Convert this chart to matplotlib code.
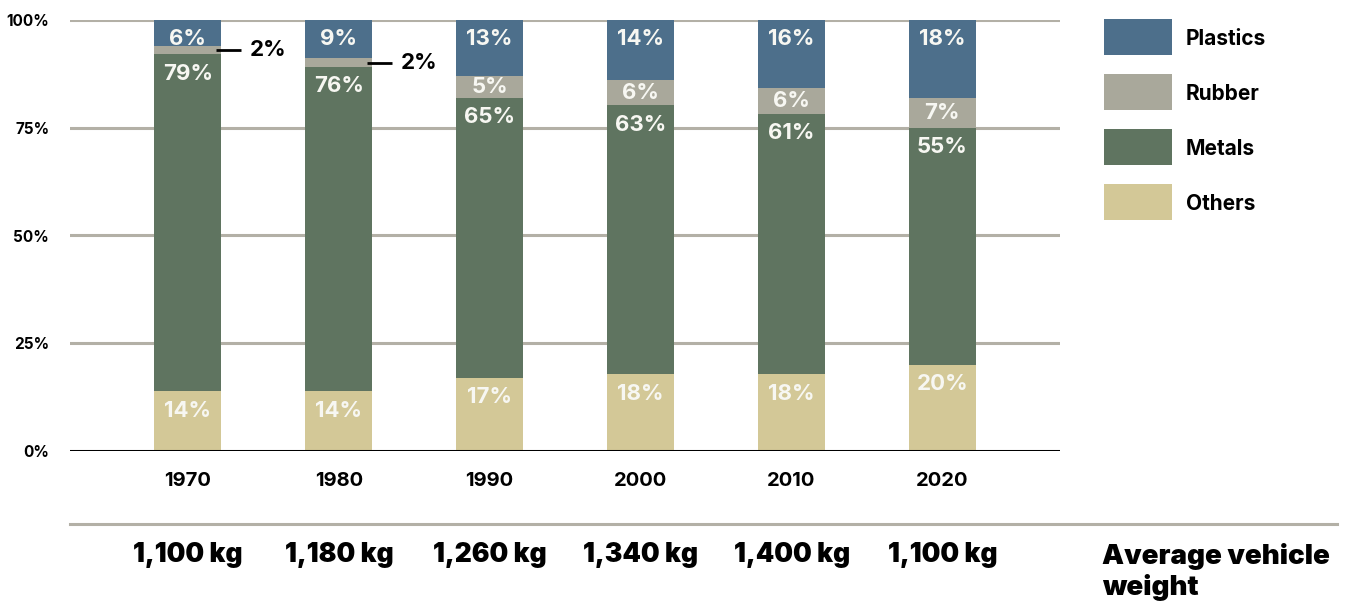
import matplotlib
matplotlib.use("Agg")
import matplotlib.pyplot as plt
from matplotlib.patches import Rectangle
import numpy as np

plt.rcParams["font.family"] = ["Inter", "DejaVu Sans"]

years = ["1970", "1980", "1990", "2000", "2010", "2020"]
weights = ["1,100 kg", "1,180 kg", "1,260 kg", "1,340 kg", "1,400 kg", "1,100 kg"]
others = [14, 14, 17, 18, 18, 20]
metals = [79, 76, 65, 63, 61, 55]
rubber = [2, 2, 5, 6, 6, 7]
plastics = [6, 9, 13, 14, 16, 18]

COLOURS = {
    "Others": "#d3c897",
    "Metals": "#5f7460",
    "Rubber": "#a9a89b",
    "Plastics": "#4d6f8b",
}
GRID = "#b3b0a6"
LABEL_WHITE = "#f7f7f2"

series = [("Others", others), ("Metals", metals), ("Rubber", rubber), ("Plastics", plastics)]
vals = np.array([s for _, s in series], dtype=float)
shares = vals / vals.sum(axis=0) * 100  # bars fill to 100 %

W, H = 1353, 604
fig = plt.figure(figsize=(W / 100, H / 100), dpi=100)
ax = fig.add_axes([70 / W, 1 - 451 / H, 990 / W, 431 / H])

x = np.arange(len(years))
bar_w = 0.445
bottom = np.zeros(len(years))
for k, (name, raw) in enumerate(series):
    h = shares[k]
    ax.bar(x, h, bar_w, bottom=bottom, color=COLOURS[name], zorder=3, linewidth=0)
    for i in range(len(years)):
        top = bottom[i] + h[i]
        if name == "Rubber":
            yc = bottom[i] + h[i] / 2
            if raw[i] <= 2:
                # too thin for an inside label: leader line + label outside
                ax.plot([i + 0.19, i + 0.35], [yc, yc], color="black", lw=2, zorder=4,
                        solid_capstyle="butt")
                ax.text(i + 0.41, yc, f"{raw[i]}%", ha="left", va="center",
                        fontsize=16, fontweight="bold", color="black")
                continue
            ypos = yc
        else:
            ypos = top - 4.5
        ax.text(i, ypos, f"{raw[i]}%", ha="center", va="center", fontsize=16,
                fontweight="bold", color=LABEL_WHITE, zorder=5)
    bottom = bottom + h

ax.set_xlim(-0.781, len(years) - 1 + 0.781)
ax.set_ylim(0, 100)
ax.set_yticks([0, 25, 50, 75, 100])
ax.set_yticklabels(["0%", "25%", "50%", "75%", "100%"], fontsize=11, fontweight="bold")
ax.set_xticks(x)
ax.set_xticklabels(years, fontsize=14.5, fontweight="bold")
ax.tick_params(axis="both", length=0)
ax.tick_params(axis="y", pad=15)
ax.tick_params(axis="x", pad=15)
for sp in ax.spines.values():
    sp.set_visible(False)
for yv in [25, 50, 75, 100]:
    ax.axhline(yv, color=GRID, lw=2.2, zorder=1)
ax.axhline(0, color="black", lw=2.2, zorder=4)

# legend, drawn by hand to match spacing
order = ["Plastics", "Rubber", "Metals", "Others"]
for j, name in enumerate(order):
    yc = 37 + 55 * j
    fig.add_artist(Rectangle((1104 / W, 1 - (yc + 18) / H), 68 / W, 36 / H,
                             transform=fig.transFigure, color=COLOURS[name], lw=0))
    fig.text(1186 / W, 1 - yc / H, name, ha="left", va="center_baseline",
             fontsize=15, fontweight="bold")

# vehicle weight row
fig.add_artist(plt.Line2D([70 / W, 1337 / W], [1 - 524 / H] * 2,
                          color=GRID, lw=2.2, transform=fig.transFigure))
for i, w in enumerate(weights):
    fig.text((188 + 151 * i) / W, 1 - 555 / H, w, ha="center", va="center",
             fontsize=19, fontweight="black")
fig.text(1102 / W, 1 - 572 / H, "Average vehicle\nweight", ha="left", va="center",
         fontsize=20, fontweight="black", linespacing=1.2)

fig.savefig("out.png", dpi=100)
